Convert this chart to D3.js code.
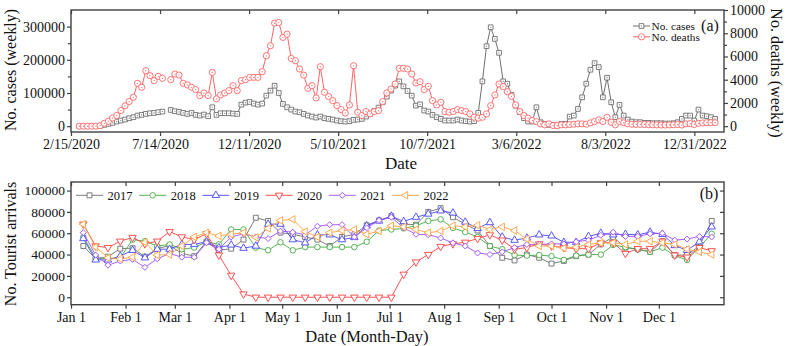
<!DOCTYPE html>
<html><head><meta charset="utf-8">
<script src="https://cdn.jsdelivr.net/npm/d3@7"></script>
<style>
body{margin:0;background:#fff;}
svg{display:block;}
text{font-family:"Liberation Serif","Times New Roman",serif;fill:#111;}
</style>
</head><body>
<svg id="chart" width="788" height="346"></svg>
<script>
// ---------------- DATA ----------------
const firstWeek = "2020-02-29";          // first weekly observation
const casesWeekly = [
0,0,0,100,300,1000,4000,7000,10000,14000,
17000,20000,24000,27000,32000,34000,37000,39000,40000,42000,
44000,null,49000,45000,43000,40000,37000,40000,34000,32000,
35000,30000,57000,34000,39000,39000,39000,38000,37000,65000,
71000,73000,68000,65000,68000,92000,107000,122000,100000,67000,
57000,50000,44000,42000,37000,32000,29000,26000,29000,24000,
22000,20000,17000,15000,14000,15000,19000,20000,22000,29000,
37000,46000,56000,72000,89000,107000,122000,135000,120000,106000,
92000,62000,66000,47000,44000,34000,27000,22000,17000,17000,
17000,20000,17000,15000,14000,15000,40000,135000,241000,298000,
263000,221000,135000,128000,94000,62000,42000,24000,14000,14000,
57000,12000,7000,4000,4000,2000,7000,7000,29000,32000,
52000,87000,128000,170000,190000,178000,87000,146000,72000,27000,
64000,32000,20000,14000,12000,12000,10000,10000,9000,9000,
9000,8000,8000,9000,12000,22000,32000,32000,17000,50000,
32000,30000,27000,22000];
const deathsWeekly = [
0,0,0,0,0,50,250,430,700,920,
1340,1750,2120,2490,3690,3350,4780,4350,3920,4290,
4120,null,4000,4490,4400,3690,3550,3350,3150,2630,
2860,2630,4630,2350,2690,2860,3060,3490,3060,3920,
4000,4200,4200,4200,4690,6060,6920,8870,8920,7640,
7920,5830,5630,4920,4400,3260,3490,2430,5120,2920,
2550,2200,1770,1430,1140,1830,5200,1200,915,1260,
1060,1260,1340,2120,2860,3200,3630,4980,4980,4920,
4490,3720,3830,3150,3430,2200,1830,2060,1260,1200,
1260,1430,1340,1260,1060,770,690,770,1060,1770,
2690,3630,3400,2970,2570,1830,1260,915,690,490,
400,200,115,200,60,50,115,115,140,170,
200,200,170,290,400,540,400,770,340,115,
400,290,200,170,150,150,150,130,120,110,
100,100,110,120,150,100,200,220,150,250,
280,300,300,300];
const topTickDates = ["2020-02-15","2020-07-14","2020-12-11","2021-05-10","2021-10-07","2022-03-06","2022-08-03","2022-12-31"];
const topDomain = ["2020-02-15","2023-02-19"];
const casesTicks = [0,100000,200000,300000];
const deathsTicks = [0,2000,4000,6000,8000,10000];

const years = ["2017","2018","2019","2020","2021","2022"];
const arrivals2017 = [48000,36000,38000,45500,46000,38000,45500,48500,41000,38500,52000,44000,45500,54000,74500,71500,60500,59000,56500,54000,48000,56500,59000,67500,72000,76000,
68500,68000,80000,83500,75000,68500,62500,48000,37000,34500,40000,37000,31500,34000,38500,40000,49500,56500,46500,45000,42500,52500,39500,39500,48000,71500];
const arrivals2018 = [56500,37000,36000,37000,54000,52500,48000,49500,45000,46500,52000,49500,63500,63500,46500,44000,51500,44000,47000,47000,47000,47000,47000,52000,62500,63500,
64500,67000,71500,73000,65000,61000,56500,48000,45000,39500,39000,39500,38500,35000,39000,40000,40000,49000,47000,45000,42500,46500,39000,35000,47000,59500];
const arrivals2019 = [55000,35000,35000,38500,44000,37000,45000,45000,49500,49500,52000,46500,49000,46000,48000,68500,68500,54000,51000,58500,58500,54000,56000,67000,71500,76000,
71000,75000,78000,81000,79000,70500,64500,70000,56500,53500,55500,58500,57500,51500,51500,57000,60000,58500,59000,58500,61000,59000,48500,44000,52000,66000];
const arrivals2020 = [68500,48000,46500,52500,56000,50000,52500,61500,56500,54000,59500,39500,20500,3000,0,0,0,0,0,0,0,0,0,0,0,0,
21500,33000,40000,47500,50000,51500,55000,58500,53500,45000,46500,50000,48000,46500,45500,45500,51000,51000,41000,45500,45500,52500,39500,37500,46500,43500];
const arrivals2021 = [60500,39500,30000,34000,35500,28000,36000,41000,37500,37500,51000,45000,56500,59500,56500,55000,62000,61000,58500,66500,68000,68000,56500,65000,72000,75000,
65000,59000,58500,55500,51000,48000,41500,40000,42500,46500,49500,49500,50000,50000,52000,53500,58000,61000,57000,57000,59500,60000,53500,54500,57000,56500];
const arrivals2022 = [68500,47000,37000,36000,37500,51500,39500,40000,48000,56500,60500,57500,59000,60500,56000,64500,72000,73000,61500,56500,60500,62500,63500,59000,62000,67000,
66000,63500,60500,62000,67000,66000,67500,63500,66000,62500,54500,48000,48000,46000,47000,49500,51000,51000,49500,52500,52500,51000,49500,45000,42500,40000];
const monthLabels = ["Jan 1","Feb 1","Mar 1","Apr 1","May 1","Jun 1","Jul 1","Aug 1","Sep 1","Oct 1","Nov 1","Dec 1"];
const monthStartDay = [0,31,59,90,120,151,181,212,243,273,304,334];
const arrivalTicks = [0,20000,40000,60000,80000,100000];

// ---------------- STYLE ----------------
const frameColor = "#404040";
const seriesStyle = {
  "2017": {color:"#6e6e6e", sym:"square"},
  "2018": {color:"#44aa44", sym:"circle"},
  "2019": {color:"#4646ff", sym:"triUp"},
  "2020": {color:"#ff4040", sym:"triDown"},
  "2021": {color:"#a050ff", sym:"diamond"},
  "2022": {color:"#ffa040", sym:"triLeft"}
};
const arrivalsByYear = {"2017":arrivals2017,"2018":arrivals2018,"2019":arrivals2019,"2020":arrivals2020,"2021":arrivals2021,"2022":arrivals2022};

const svg = d3.select("#chart");
const parse = d3.utcParse("%Y-%m-%d");

function symPath(kind, size){
  const map = {square:d3.symbolSquare, circle:d3.symbolCircle, triUp:d3.symbolTriangle,
               triDown:d3.symbolTriangle, triLeft:d3.symbolTriangle, diamond:d3.symbolSquare};
  return d3.symbol().type(map[kind]).size(size)();
}
function symRot(kind){
  return {triDown:180, triLeft:-90, diamond:45}[kind] || 0;
}
function drawMarkers(g, pts, kind, size, color, dot){
  const m = g.selectAll(null).data(pts).enter().append("g")
    .attr("transform", d => `translate(${d[0]},${d[1]}) rotate(${symRot(kind)})`);
  m.append("path").attr("d", symPath(kind,size)).attr("fill","#fff")
    .attr("stroke",color).attr("stroke-width",0.9);
  if(dot) m.append("circle").attr("r",0.6).attr("fill",color);
}
function styleAxis(g, fs){
  g.select(".domain").remove();
  g.selectAll("line").attr("stroke",frameColor).attr("stroke-width",1.2);
  if(fs) g.selectAll("text").attr("font-size",fs).attr("font-family","Liberation Serif").attr("fill","#111");
}

// ---------------- PANEL (a) ----------------
const A = {l:71, r:724, t:10, b:132};
const xA = d3.scaleUtc().domain(topDomain.map(parse)).range([A.l, A.r]);
const yCases = d3.scaleLinear().domain([-17500, 350000]).range([A.b, A.t]);
const yDeaths = d3.scaleLinear().domain([-500, 10000]).range([A.b, A.t]);
const start = parse(firstWeek);
const weekDates = casesWeekly.map((_, i) => d3.utcDay.offset(start, 7*i));

const gA = svg.append("g");
const fmtDate = d3.utcFormat("%-m/%-d/%Y");
const tickDatesA = topTickDates.map(parse);

gA.append("g").attr("transform",`translate(0,${A.b})`)
  .call(d3.axisBottom(xA).tickValues(tickDatesA).tickFormat(fmtDate).tickSize(4).tickSizeOuter(0).tickPadding(3))
  .call(g=>styleAxis(g,14));
gA.append("g").attr("transform",`translate(0,${A.t})`)
  .call(d3.axisTop(xA).tickValues(tickDatesA).tickFormat("").tickSize(-4).tickSizeOuter(0))
  .call(g=>styleAxis(g));
gA.append("g").attr("transform",`translate(${A.l},0)`)
  .call(d3.axisLeft(yCases).tickValues(casesTicks).tickFormat(d3.format("d")).tickSize(4).tickSizeOuter(0).tickPadding(2))
  .call(g=>styleAxis(g,14));
gA.append("g").attr("transform",`translate(${A.l},0)`)
  .call(d3.axisLeft(yCases).tickValues(casesTicks.slice(0,-1).map(v=>v+50000)).tickFormat("").tickSize(3).tickSizeOuter(0))
  .call(g=>styleAxis(g));
gA.append("g").attr("transform",`translate(${A.r},0)`)
  .call(d3.axisRight(yDeaths).tickValues(deathsTicks).tickFormat(d3.format("d")).tickSize(4).tickSizeOuter(0).tickPadding(2))
  .call(g=>styleAxis(g,14));
gA.append("g").attr("transform",`translate(${A.r},0)`)
  .call(d3.axisRight(yDeaths).tickValues(deathsTicks.slice(0,-1).map(v=>v+1000)).tickFormat("").tickSize(3).tickSizeOuter(0))
  .call(g=>styleAxis(g));

const casesColor = "#6e6e6e", deathsColor = "#ff6464";
const lineCases = d3.line().defined(d=>d[1]!=null).x(d=>xA(d[0])).y(d=>yCases(d[1]));
const lineDeaths = d3.line().defined(d=>d[1]!=null).x(d=>xA(d[0])).y(d=>yDeaths(d[1]));
const cPts = weekDates.map((d,i)=>[d,casesWeekly[i]]);
const dPts = weekDates.map((d,i)=>[d,deathsWeekly[i]]);
gA.append("path").attr("d",lineCases(cPts)).attr("fill","none").attr("stroke",casesColor).attr("stroke-width",1);
drawMarkers(gA, cPts.filter(d=>d[1]!=null).map(d=>[xA(d[0]),yCases(d[1])]), "square", 22, casesColor, true);
gA.append("path").attr("d",lineDeaths(dPts)).attr("fill","none").attr("stroke",deathsColor).attr("stroke-width",1);
drawMarkers(gA, dPts.filter(d=>d[1]!=null).map(d=>[xA(d[0]),yDeaths(d[1])]), "circle", 30, deathsColor, true);

gA.append("rect").attr("x",A.l).attr("y",A.t).attr("width",A.r-A.l).attr("height",A.b-A.t)
  .attr("fill","none").attr("stroke",frameColor).attr("stroke-width",1.4);

// legend (a)
const legA = [{name:"No. cases",color:casesColor,sym:"square",sz:22},{name:"No. deaths",color:deathsColor,sym:"circle",sz:30}];
legA.forEach((e,k)=>{
  const y = 26 + k*10.8;
  gA.append("line").attr("x1",633).attr("x2",650).attr("y1",y).attr("y2",y).attr("stroke",e.color).attr("stroke-width",1);
  drawMarkers(gA, [[641.5,y]], e.sym, e.sz, e.color, true);
  gA.append("text").attr("x",651.5).attr("y",y).attr("dy","0.33em").attr("font-size",11.3).text(e.name);
});
gA.append("text").attr("x",710).attr("y",25).attr("dy","0.35em").attr("text-anchor","middle").attr("font-size",16).text("(a)");

svg.append("text").attr("transform","translate(10,70) rotate(-90)").attr("text-anchor","middle").attr("dy","0.35em").attr("font-size",16).text("No.  cases (weekly)");
svg.append("text").attr("transform","translate(777,73) rotate(90)").attr("text-anchor","middle").attr("dy","0.35em").attr("font-size",16).text("No.  deaths (weekly)");
svg.append("text").attr("x",401).attr("y",163).attr("dy","0.35em").attr("text-anchor","middle").attr("font-size",17).text("Date");

// ---------------- PANEL (b) ----------------
const B = {l:71, r:724, t:182, b:304.7};
const xB = d3.scaleLinear().domain([0, 371]).range([B.l, B.r]);
const yB = d3.scaleLinear().domain([-7000, 108000]).range([B.b, B.t]);
const gB = svg.append("g");

gB.append("g").attr("transform",`translate(0,${B.b})`)
  .call(d3.axisBottom(xB).tickValues(monthStartDay).tickFormat((d,i)=>monthLabels[i]).tickSize(4).tickSizeOuter(0).tickPadding(3))
  .call(g=>styleAxis(g,14));
gB.append("g").attr("transform",`translate(0,${B.t})`)
  .call(d3.axisTop(xB).tickValues(monthStartDay).tickFormat("").tickSize(-4).tickSizeOuter(0))
  .call(g=>styleAxis(g));
gB.append("g").attr("transform",`translate(${B.l},0)`)
  .call(d3.axisLeft(yB).tickValues(arrivalTicks).tickFormat(d3.format("d")).tickSize(4).tickSizeOuter(0).tickPadding(2))
  .call(g=>styleAxis(g,13.5));
gB.append("g").attr("transform",`translate(${B.r},0)`)
  .call(d3.axisRight(yB).tickValues(arrivalTicks).tickFormat("").tickSize(-4).tickSizeOuter(0))
  .call(g=>styleAxis(g));

years.forEach(yr=>{
  const st = seriesStyle[yr];
  const vals = arrivalsByYear[yr];
  const pts = vals.map((v,i)=>[xB(7*(i+1)), yB(v)]);
  gB.append("path").attr("d", d3.line()(pts)).attr("fill","none").attr("stroke",st.color).attr("stroke-width",0.9);
  drawMarkers(gB, pts, st.sym, st.sym==="diamond"?18:24, st.color, false);
});

gB.append("rect").attr("x",B.l).attr("y",B.t).attr("width",B.r-B.l).attr("height",B.b-B.t)
  .attr("fill","none").attr("stroke",frameColor).attr("stroke-width",1.4);

years.forEach((yr,k)=>{
  const st = seriesStyle[yr];
  const x0 = 76 + k*63.2, y = 195.3;
  gB.append("line").attr("x1",x0).attr("x2",x0+27).attr("y1",y).attr("y2",y).attr("stroke",st.color).attr("stroke-width",0.9);
  drawMarkers(gB, [[x0+13.5,y]], st.sym, st.sym==="diamond"?18:24, st.color, false);
  gB.append("text").attr("x",x0+31.5).attr("y",y).attr("dy","0.35em").attr("font-size",12.5).text(yr);
});
gB.append("text").attr("x",709).attr("y",193).attr("dy","0.35em").attr("text-anchor","middle").attr("font-size",16).text("(b)");

svg.append("text").attr("transform","translate(10,244) rotate(-90)").attr("text-anchor","middle").attr("dy","0.35em").attr("font-size",16).text("No. Tourist arrivals");
svg.append("text").attr("x",367).attr("y",336.5).attr("dy","0.35em").attr("text-anchor","middle").attr("font-size",16.5).text("Date (Month-Day)");
</script>
</body></html>
